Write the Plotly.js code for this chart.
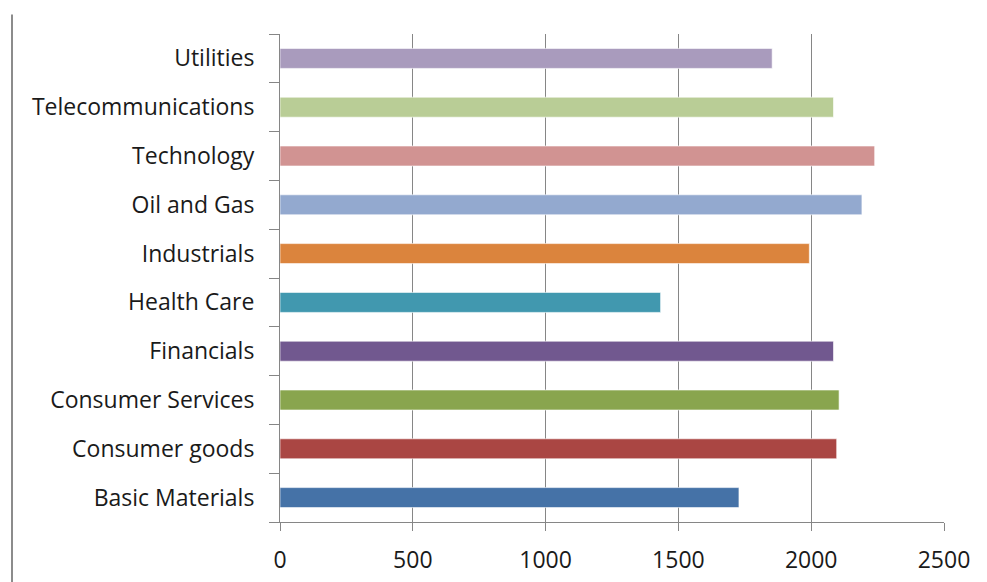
<!DOCTYPE html>
<html>
<head>
<meta charset="utf-8">
<script src="https://cdn.plot.ly/plotly-3.0.1.min.js"></script>
<style>
  html, body { margin: 0; padding: 0; background: #fff; }
  #chart { width: 987px; height: 582px; }
</style>
</head>
<body>
<div id="chart"></div>
<script>
// Sectors, listed bottom to top as they appear on the axis
const sectors = [
  'Basic Materials', 'Consumer goods', 'Consumer Services', 'Financials',
  'Health Care', 'Industrials', 'Oil and Gas', 'Technology',
  'Telecommunications', 'Utilities'
];
const values = [1728, 2096, 2105, 2084, 1433, 1993, 2191, 2239, 2084, 1853];
const barColors = [
  '#4572A7', '#AA4643', '#89A54E', '#71588F', '#4198AF',
  '#DB843D', '#93A9CF', '#D19392', '#B9CD96', '#A99BBD'
];
const xTicks = [0, 500, 1000, 1500, 2000, 2500];

const axisGray = '#868686';
const fontFamily = '"Open Sans", Lato, sans-serif';

const trace = {
  type: 'bar',
  orientation: 'h',
  y: sectors,
  x: values,
  width: 0.41,
  marker: {
    color: barColors,
    line: { color: 'rgba(255,255,255,0.6)', width: 1 }
  },
  hoverinfo: 'y+x'
};

const margin = { l: 280, r: 43, t: 34, b: 60 };
const plotW = 987 - margin.l - margin.r;

const layout = {
  width: 987,
  height: 582,
  margin: margin,
  paper_bgcolor: '#ffffff',
  plot_bgcolor: '#ffffff',
  showlegend: false,
  font: { family: fontFamily, size: 23, color: '#1a1a1a' },
  xaxis: {
    range: [0, 2500],
    tickvals: xTicks,
    ticktext: xTicks.map(String),
    showgrid: true,
    gridcolor: axisGray,
    gridwidth: 1,
    zeroline: false,
    showline: true,
    linecolor: axisGray,
    linewidth: 1,
    ticks: 'outside',
    ticklen: 8,
    tickcolor: axisGray,
    ticklabelstandoff: 9,
    fixedrange: true
  },
  yaxis: {
    type: 'category',
    categoryorder: 'array',
    categoryarray: sectors,
    showgrid: false,
    zeroline: false,
    showline: true,
    linecolor: axisGray,
    linewidth: 1,
    ticks: 'outside',
    tickson: 'boundaries',
    ticklen: 10,
    tickcolor: axisGray,
    ticklabelstandoff: 20,
    fixedrange: true
  },
  shapes: [
    {
      // thin frame line along the left edge of the figure
      type: 'line',
      xref: 'paper', yref: 'paper',
      x0: (12 - margin.l) / plotW, x1: (12 - margin.l) / plotW,
      y0: -0.2, y1: 1.04,
      line: { color: '#8c8c8c', width: 2 }
    }
  ]
};

Plotly.newPlot('chart', [trace], layout, { displayModeBar: false, staticPlot: true });
</script>
</body>
</html>
